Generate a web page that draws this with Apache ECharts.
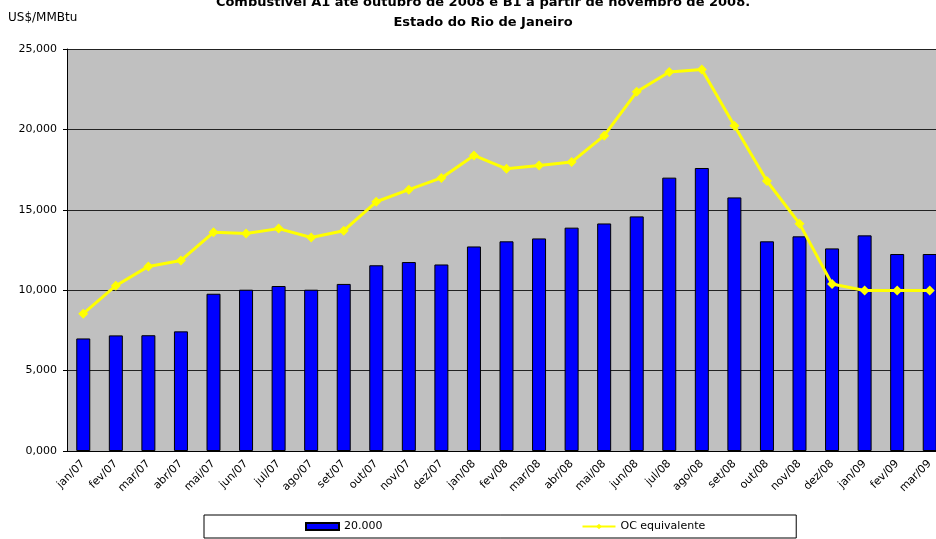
<!DOCTYPE html>
<html>
<head>
<meta charset="utf-8">
<script src="https://cdn.jsdelivr.net/npm/echarts@6/dist/echarts.min.js"></script>
<style>
  html, body { margin: 0; padding: 0; background: #fff; }
  #chart { width: 936px; height: 539px; }
</style>
</head>
<body>
<div id="chart"></div>
<script>
// months on the x axis
const months = [
  "jan/07", "fev/07", "mar/07", "abr/07", "mai/07", "jun/07", "jul/07", "ago/07", "set/07",
  "out/07", "nov/07", "dez/07", "jan/08", "fev/08", "mar/08", "abr/08", "mai/08", "jun/08",
  "jul/08", "ago/08", "set/08", "out/08", "nov/08", "dez/08", "jan/09", "fev/09", "mar/09"
];

// bars, "20.000" (US$/MMBtu)
const barValues = [
  7.00, 7.19, 7.20, 7.44, 9.78, 10.03, 10.26, 10.03, 10.39,
  11.55, 11.75, 11.60, 12.72, 13.04, 13.22, 13.89, 14.15, 14.59,
  17.00, 17.60, 15.77, 13.04, 13.35, 12.60, 13.41, 12.25, 12.25
];

// yellow line, "OC equivalente"
const ocValues = [
  8.54, 10.28, 11.48, 11.85, 13.60, 13.53, 13.83, 13.28, 13.70,
  15.50, 16.25, 16.98, 18.38, 17.55, 17.76, 17.97, 19.61, 22.34,
  23.57, 23.73, 20.23, 16.79, 14.14, 10.39, 9.98, 9.98, 9.98
];

const font = '"DejaVu Sans", Arial, sans-serif';
const fmt = (v) => v.toFixed(3).replace(".", ",");

const chart = echarts.init(document.getElementById("chart"));

chart.setOption({
  backgroundColor: "#fff",
  animation: false,
  textStyle: { fontFamily: font, color: "#000" },
  title: [
    {
      text: "Combustível A1 até outubro de 2008 e B1 a partir de novembro de 2008.\nEstado do Rio de Janeiro",
      left: 478,
      textAlign: "center",
      top: -12,
      textStyle: { fontFamily: font, fontSize: 13, fontWeight: "bold", color: "#000", lineHeight: 20 }
    },
    {
      text: "US$/MMBtu",
      left: 3,
      top: 7,
      textStyle: { fontFamily: font, fontSize: 12, fontWeight: "normal", color: "#000" }
    }
  ],
  legend: {
    left: 204,
    top: 515,
    padding: [6, 91, 6, 101],
    itemGap: 199,
    itemWidth: 33,
    itemHeight: 7,
    backgroundColor: "#fff",
    borderColor: "#000",
    borderWidth: 1,
    borderRadius: 0,
    textStyle: { fontFamily: font, fontSize: 11, color: "#000" },
    data: [
      { name: "20.000", icon: "rect" },
      { name: "OC equivalente" }
    ]
  },
  grid: {
    left: 67,
    top: 49,
    right: -10,
    bottom: 88,
    show: true,
    backgroundColor: "#c0c0c0",
    borderWidth: 0,
    containLabel: false,
    outerBoundsMode: "none"
  },
  xAxis: {
    type: "category",
    data: months,
    boundaryGap: true,
    axisLine: { lineStyle: { color: "#000", width: 1 } },
    axisTick: { length: 4, lineStyle: { color: "#000" } },
    axisLabel: { rotate: 45, fontSize: 11, color: "#000", margin: 11, interval: 0, fontFamily: font },
    splitLine: { show: false }
  },
  yAxis: {
    type: "value",
    min: 0,
    max: 25,
    interval: 5,
    axisLine: { show: true, lineStyle: { color: "#000", width: 1 } },
    axisTick: { show: true, length: 4, lineStyle: { color: "#000" } },
    axisLabel: { formatter: fmt, fontSize: 11, color: "#000", margin: 10, fontFamily: font },
    splitLine: { show: true, lineStyle: { color: "#222", width: 1 } }
  },
  series: [
    {
      name: "20.000",
      type: "bar",
      data: barValues,
      barWidth: 14,
      itemStyle: { color: "#0000ff", borderColor: "#000", borderWidth: 1 }
    },
    {
      name: "OC equivalente",
      type: "line",
      data: ocValues,
      symbol: "diamond",
      symbolSize: 10,
      lineStyle: { color: "#ffff00", width: 3 },
      itemStyle: { color: "#ffff00" }
    }
  ]
});
</script>
</body>
</html>
